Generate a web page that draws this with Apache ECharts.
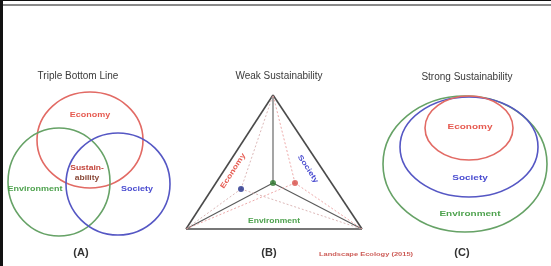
<!doctype html>
<html>
<head>
<meta charset="utf-8">
<script src="https://cdn.jsdelivr.net/npm/echarts@6/dist/echarts.min.js"></script>
<style>
html, body { margin: 0; padding: 0; background: #fff; }
#main { width: 551px; height: 266px; }
</style>
</head>
<body>
<div id="main"></div>
<script>
// everything lives in one page-sized data space: x 0..551, y 0..266 (y down)
var titles = [
    ['Triple Bottom Line', 78, 76],
    ['Weak Sustainability', 279, 76],
    ['Strong Sustainability', 467, 77]
];
var panelTags = [
    ['(A)', 81, 253],
    ['(B)', 269, 253],
    ['(C)', 462, 253]
];

// (A) venn circles: name, cx, cy, rx, ry
var vennA = [
    ['Economy', 90, 140, 53, 48],
    ['Environment', 59, 182, 51, 54],
    ['Society', 118, 184, 52, 51]
];
// (C) nested ellipses
var nestedC = [
    ['Environment', 465, 164, 82, 68],
    ['Society', 469, 147, 69, 50],
    ['Economy', 469, 128, 44, 32]
];

// (B) triangle
var triVertices = [[273, 95], [186, 229], [362, 229]];
var triCenter = [273, 183];
var triDots = [
    ['Society', 241, 189],
    ['Environment', 273, 183],
    ['Economy', 295, 183]
];

// labels: text, x, y, rotation (deg), colour key, size
var regionLabels = [
    ['Economy', 90, 115, 0, 'Economy', 9],
    ['Environment', 35, 189, 0, 'Environment', 9],
    ['Society', 137, 189, 0, 'Society', 9],
    ['Sustain-', 87, 168, 0, 'Sustain', 8.5],
    ['ability', 87, 178, 0, 'Sustain2', 8.5],
    ['Economy', 233, 171, 57, 'Economy', 9],
    ['Society', 308, 169, -57, 'Society', 9],
    ['Environment', 274, 221, 0, 'Environment', 8.5],
    ['Economy', 470, 127, 0, 'Economy', 10],
    ['Society', 470, 178, 0, 'Society', 10],
    ['Environment', 470, 214, 0, 'Environment', 10]
];
var credit = ['Landscape Ecology (2015)', 366, 254];

var lineColor = { Economy: '#e26a64', Society: '#5557c4', Environment: '#66a266' };
var textColor = { Economy: '#e65a50', Society: '#4a4cd0', Environment: '#4ea24e', Sustain: '#c4453c', Sustain2: '#8a4a3a' };

var ellipses = vennA.concat(nestedC);

// segments: x1, y1, x2, y2, kind
var segments = [];
triVertices.forEach(function (v, i) {
    var w = triVertices[(i + 1) % 3];
    segments.push([v[0], v[1], w[0], w[1], 'edge']);
    segments.push([triCenter[0], triCenter[1], v[0], v[1], 'spoke']);
});
[triDots[0], triDots[2]].forEach(function (d) {
    triVertices.forEach(function (v) {
        segments.push([d[1], d[2], v[0], v[1], d[0] === 'Economy' ? 'dotRed' : 'dotBlue']);
    });
});

var segStyle = {
    edge: { stroke: '#4a4a4a', lineWidth: 1.6 },
    spoke: { stroke: '#5a5a5a', lineWidth: 1.1 },
    dotRed: { stroke: '#eba0a0', lineWidth: 0.9, lineDash: [2, 2] },
    dotBlue: { stroke: '#d8b0b0', lineWidth: 0.9, lineDash: [2, 2] }
};

var allTexts = [];
titles.forEach(function (t) { allTexts.push([t[0], t[1], t[2], 0, 'title']); });
panelTags.forEach(function (t) { allTexts.push([t[0], t[1], t[2], 0, 'tag']); });
regionLabels.forEach(function (t) { allTexts.push(t); });
allTexts.push([credit[0], credit[1], credit[2], 0, 'credit']);

function textStyleFor(t) {
    var kind = t[4];
    if (kind === 'title') return { fill: '#3a3a3a', font: '10px "Liberation Sans"', sy: 1 };
    if (kind === 'tag') return { fill: '#333', font: 'bold 11px "Liberation Sans"', sy: 1 };
    if (kind === 'credit') return { fill: '#cc5a55', font: 'bold 7.5px "Liberation Sans"', sy: 0.8 };
    return { fill: textColor[kind], font: 'bold ' + t[5] + 'px "Liberation Sans"', sy: 0.8 };
}

var chart = echarts.init(document.getElementById('main'));

chart.setOption({
    animation: false,
    backgroundColor: '#fff',
    grid: { left: 0, right: 0, top: 0, bottom: 0 },
    xAxis: { type: 'value', min: 0, max: 551, show: false },
    yAxis: { type: 'value', min: 0, max: 266, inverse: true, show: false },
    graphic: [
        { type: 'rect', shape: { x: 0, y: 0, width: 3, height: 266 }, style: { fill: '#111' }, z: 100 },
        { type: 'rect', shape: { x: 0, y: 0, width: 551, height: 1 }, style: { fill: '#111' }, z: 100 },
        { type: 'rect', shape: { x: 3, y: 4, width: 548, height: 2 }, style: { fill: '#8a8a8a' }, z: 100 }
    ],
    series: [
        {
            type: 'custom',
            name: 'ellipses',
            data: ellipses.map(function (e) { return [e[1], e[2], e[3], e[4]]; }),
            renderItem: function (params, api) {
                var c = api.coord([api.value(0), api.value(1)]);
                var s = api.size([api.value(2), api.value(3)]);
                return {
                    type: 'ellipse',
                    shape: { cx: c[0], cy: c[1], rx: s[0], ry: s[1] },
                    style: { fill: 'none', stroke: lineColor[ellipses[params.dataIndex][0]], lineWidth: 1.6 }
                };
            }
        },
        {
            type: 'custom',
            name: 'triangle',
            data: segments.map(function (s) { return s.slice(0, 4); }),
            renderItem: function (params, api) {
                var a = api.coord([api.value(0), api.value(1)]);
                var b = api.coord([api.value(2), api.value(3)]);
                var st = segStyle[segments[params.dataIndex][4]];
                return {
                    type: 'line',
                    shape: { x1: a[0], y1: a[1], x2: b[0], y2: b[1] },
                    style: { stroke: st.stroke, lineWidth: st.lineWidth, lineDash: st.lineDash || null }
                };
            }
        },
        {
            type: 'scatter',
            name: 'dots',
            symbolSize: 6,
            z: 5,
            data: triDots.map(function (d) {
                return { value: [d[1], d[2]], itemStyle: { color: d[0] === 'Society' ? '#22308a' : d[0] === 'Economy' ? '#d8504a' : '#2f7a2f' } };
            })
        },
        {
            type: 'custom',
            name: 'texts',
            z: 10,
            data: allTexts.map(function (t) { return [t[1], t[2]]; }),
            renderItem: function (params, api) {
                var t = allTexts[params.dataIndex];
                var p = api.coord([api.value(0), api.value(1)]);
                var st = textStyleFor(t);
                return {
                    type: 'text',
                    x: p[0],
                    y: p[1],
                    rotation: t[3] * Math.PI / 180,
                    scaleY: st.sy,
                    style: {
                        text: t[0],
                        fill: st.fill,
                        font: st.font,
                        align: 'center',
                        verticalAlign: 'middle',
                        textAlign: 'center',
                        textVerticalAlign: 'middle'
                    }
                };
            }
        }
    ]
});

window.onresize = chart.resize;
</script>
</body>
</html>
